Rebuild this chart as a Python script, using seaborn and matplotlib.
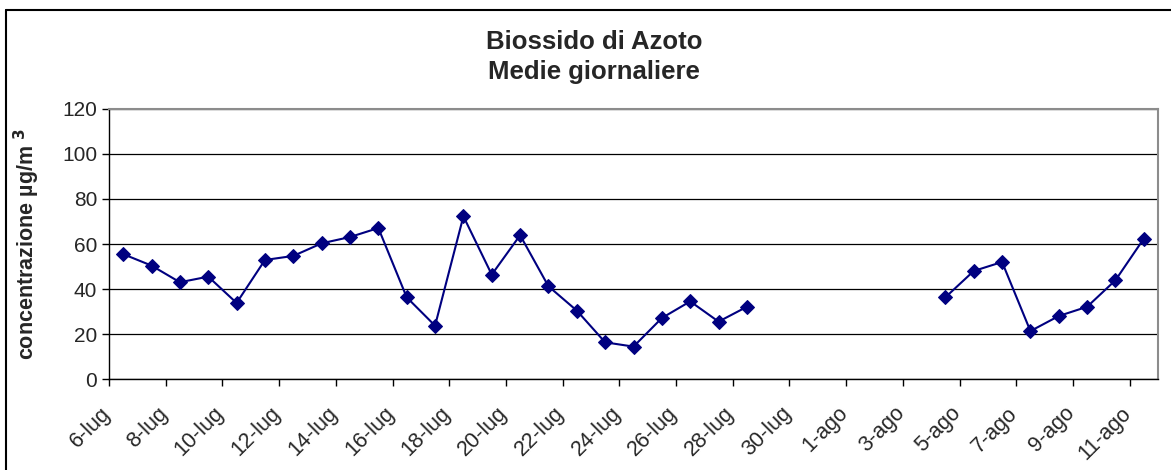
import numpy as np
import pandas as pd
import seaborn as sns
import matplotlib.pyplot as plt
from matplotlib.lines import Line2D
from matplotlib.transforms import ScaledTranslation

# giorni dal 6 luglio all'11 agosto
giorni = [f"{d}-lug" for d in range(6, 32)] + [f"{d}-ago" for d in range(1, 12)]

# medie giornaliere NO2 (µg/m3), NaN = dato mancante
no2 = [55.5, 50.4, 43.0, 45.5, 33.8, 52.9, 54.7, 60.3, 63.1, 67.1,
       36.3, 23.7, 72.3, 46.4, 63.9, 41.2, 30.4, 16.3, 14.4, 27.1,
       34.5, 25.5, 32.1,
       np.nan, np.nan, np.nan, np.nan, np.nan, np.nan,
       36.3, 48.0, 52.0, 21.3, 28.0, 32.1, 43.9, 62.4]

df = pd.DataFrame({"giorno": giorni, "no2": no2})
df["idx"] = range(len(df))
# segmenti separati dove mancano i dati
df["seg"] = df["no2"].isna().cumsum()
df = df.dropna()

sns.set_style("white")
plt.rcParams['font.family'] = ['Liberation Sans', 'DejaVu Sans']

fig, ax = plt.subplots(figsize=(11.71, 4.70), dpi=100)
fig.subplots_adjust(left=0.0931, right=0.9889, bottom=0.1936, top=0.7681)

sns.lineplot(data=df, x="idx", y="no2", units="seg", estimator=None,
             color="#000080", marker="D", markersize=7.5, markeredgecolor="#000080",
             linewidth=1.5, ax=ax, zorder=3)

ax.set_xlim(-0.5, len(giorni) - 0.5)
ax.set_ylim(0, 120)
ax.set_yticks(range(0, 121, 20))
ax.yaxis.grid(True, color="black", linewidth=0.9)
ax.set_axisbelow(True)

pos = np.arange(0, len(giorni), 2)
ax.set_xticks(pos - 0.5)
ax.set_xticklabels([giorni[i] for i in pos], rotation=45, ha="right",
                   rotation_mode="anchor", fontsize=15.5)
ax.tick_params(axis="y", labelsize=15)
ax.tick_params(axis="both", direction="out", length=5, width=1, color="black",
               bottom=True, left=True)
# sposta le etichette ruotate sotto le tacche
shift = ScaledTranslation(-0.09, -0.12, fig.dpi_scale_trans)
for lab in ax.get_xticklabels():
    lab.set_transform(lab.get_transform() + shift)

for s in ["top", "right"]:
    ax.spines[s].set_color("#8c8c8c")
    ax.spines[s].set_linewidth(1.5)
for s in ["left", "bottom"]:
    ax.spines[s].set_color("black")
    ax.spines[s].set_linewidth(1)

ax.set_xlabel("")
ax.set_ylabel("concentrazione µg/m $^{\\bf 3}$", fontsize=15.5, fontweight="bold")
ax.yaxis.set_label_coords(-0.064, 0.5)

fig.text(594 / 1171, 1 - 57 / 470, "Biossido di Azoto\nMedie giornaliere",
         ha="center", va="center", fontsize=18.5, fontweight="bold", linespacing=1.3)

# cornice esterna del grafico
fig.add_artist(Line2D([6 / 1171, 6 / 1171], [0, 1 - 10 / 470], color="black", lw=1.5))
fig.add_artist(Line2D([6 / 1171, 1], [1 - 10 / 470, 1 - 10 / 470], color="black", lw=1.5))

plt.savefig("out.png", dpi=100)
